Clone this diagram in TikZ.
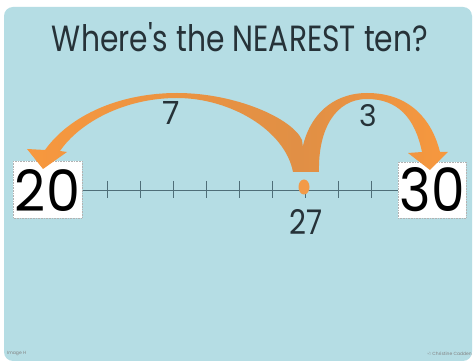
\documentclass[tikz,border=0pt]{standalone}
\usepackage{fontspec}
\setmainfont{Poppins}
\usepackage{graphicx}
\definecolor{bgblue}{HTML}{B5DDE4}
\definecolor{arrorange}{HTML}{F29A47}
\definecolor{arrbright}{HTML}{F7983E}
\definecolor{arrdark}{HTML}{E08F45}
\definecolor{arrtan}{HTML}{DDAE80}
\definecolor{inkgray}{HTML}{263238}
\definecolor{linegray}{HTML}{4F6E78}
\tikzset{
  numbox/.style={draw=gray!60, densely dotted, fill=white, line width=0.6pt},
  tickmark/.style={draw=linegray, line width=0.9pt},
  lbl/.style={inner sep=0pt, text=inkgray},
}
\begin{document}
\begin{tikzpicture}[x=1pt,y=-1pt]
\useasboundingbox (0,0) rectangle (475,363);
\fill[white] (0,0) rectangle (475,363);
\fill[bgblue, rounded corners=9pt] (4,7) rectangle (472,361);

% title
\node[lbl] (title) at (240,37.5) {\resizebox{376pt}{29pt}{Where\textquotesingle s the NEAREST ten?}};

% number line
\draw[linegray, line width=0.9pt] (80,190) -- (398,190);
\foreach \i in {1,...,9} {
  \draw[tickmark] ({74+33.1*\i},181) -- ({74+33.1*\i},198);
}

% boxes
\draw[numbox] (13,161) rectangle (82,218);
\node[lbl, text=black] (n20) at (47.5,191) {\resizebox{65pt}{42pt}{20}};
\draw[numbox] (398,162) rectangle (466,218);
\node[lbl, text=black] (n30) at (432.5,190) {\resizebox{65pt}{44pt}{30}};

% left jump (27 -> 20)
\path[left color=arrbright, middle color=arrtan, right color=arrdark]
  (306,172) -- (302,140)
  .. controls (292,118) and (235,93) .. (177,93)
  .. controls (120,93) and (70,115) .. (45,150)
  -- (27,149) -- (43,169) -- (67,152) -- (60,151)
  .. controls (80,122) and (125,98) .. (177,98)
  .. controls (230,98) and (285,130) .. (293,172) -- cycle;
% right jump (27 -> 30)
\path[left color=arrdark, middle color=arrorange, right color=arrbright]
  (300,172) .. controls (300,120) and (330,93) .. (367,93)
  .. controls (410,93) and (432,120) .. (440,152)
  -- (448,152) -- (430,170) -- (408,153) -- (422,152)
  .. controls (415,118) and (398,99) .. (367,99)
  .. controls (335,99) and (318,130) .. (319,172) -- cycle;

% 27 marker
\fill[arrorange] (304,187) ellipse [x radius=5.5, y radius=7.5];

% labels
\node[lbl] (l7) at (171.5,113.5) {\resizebox{!}{23pt}{7}};
\node[lbl] (l3) at (368.5,116) {\resizebox{!}{22pt}{3}};
\node[lbl] (l27) at (306.5,222.5) {\resizebox{33pt}{25pt}{27}};

% footer
\node[lbl, text=gray, font=\fontsize{4.5}{5}\selectfont, anchor=west] (fl) at (7,354) {Image H};
\node[lbl, text=gray, font=\fontsize{4.5}{5}\selectfont, anchor=east] (fr) at (472,354) {© Christine Cadden};
\end{tikzpicture}
\end{document}
